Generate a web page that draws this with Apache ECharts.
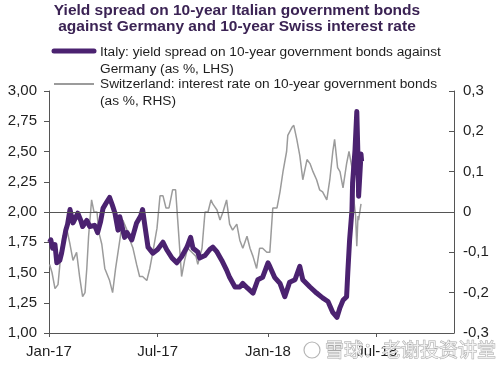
<!DOCTYPE html>
<html><head><meta charset="utf-8">
<script src="https://cdn.jsdelivr.net/npm/echarts@6/dist/echarts.min.js"></script>
<style>html,body{margin:0;padding:0;background:#fff}#c{width:496px;height:365px}</style>
</head><body><div id="c"></div>
<script>
const titleLines = ['Yield spread on 10-year Italian government bonds', 'against Germany and 10-year Swiss interest rate'];
const italyName = ['Italy: yield spread on 10-year government bonds against', 'Germany (as %, LHS)'];
const swissName = ['Switzerland: interest rate on 10-year government bonds', '(as %, RHS)'];
const xTickDates = ['2017-01-01', '2017-07-01', '2018-01-01', '2018-07-01'];
const xTickLabels = ['Jan-17', 'Jul-17', 'Jan-18', 'Jul-18'];
const xMin = '2017-01-01', xMax = '2018-11-07';
const leftMin = 1, leftMax = 3, leftStep = 0.25;
const rightMin = -0.3, rightMax = 0.3, rightStep = 0.1;

const italyDates = ['2017-01-02','2017-01-04','2017-01-07','2017-01-11','2017-01-14','2017-01-19','2017-01-22','2017-01-29','2017-02-01','2017-02-05','2017-02-10','2017-02-15','2017-02-18','2017-02-23','2017-02-26','2017-03-05','2017-03-10','2017-03-18','2017-03-23','2017-03-28','2017-04-01','2017-04-07','2017-04-12','2017-04-17','2017-04-21','2017-04-26','2017-04-29','2017-05-02','2017-05-07','2017-05-11','2017-05-19','2017-05-27','2017-06-03','2017-06-06','2017-06-10','2017-06-15','2017-06-23','2017-07-01','2017-07-10','2017-07-16','2017-07-25','2017-08-02','2017-08-10','2017-08-19','2017-08-25','2017-08-29','2017-09-06','2017-09-09','2017-09-18','2017-09-26','2017-10-01','2017-10-08','2017-10-16','2017-10-24','2017-10-29','2017-11-07','2017-11-15','2017-11-20','2017-11-28','2017-12-07','2017-12-15','2017-12-23','2018-01-01','2018-01-04','2018-01-12','2018-01-21','2018-01-29','2018-02-06','2018-02-15','2018-02-23','2018-02-28','2018-03-12','2018-03-23','2018-04-02','2018-04-11','2018-04-19','2018-04-26','2018-05-01','2018-05-06','2018-05-12','2018-05-14','2018-05-17','2018-05-21','2018-05-22','2018-05-26','2018-05-29','2018-05-31','2018-06-01','2018-06-03','2018-06-05','2018-06-06'];
const italyValues = [1.75,1.77,1.70,1.73,1.58,1.60,1.66,1.85,1.90,2.02,1.91,1.96,1.99,1.93,1.88,1.93,1.88,1.89,1.83,1.92,2.03,2.08,2.12,2.05,1.99,1.85,1.96,1.95,1.79,1.83,1.77,1.91,1.97,2.02,1.88,1.71,1.66,1.69,1.75,1.69,1.62,1.58,1.63,1.71,1.79,1.70,1.67,1.62,1.64,1.69,1.71,1.67,1.60,1.52,1.46,1.38,1.38,1.41,1.37,1.33,1.44,1.46,1.58,1.55,1.46,1.41,1.30,1.42,1.44,1.55,1.44,1.38,1.33,1.29,1.26,1.17,1.13,1.21,1.27,1.30,1.50,1.77,2.02,2.24,2.51,2.83,2.45,2.13,2.30,2.48,2.42];

const swissDates = ['2017-01-02','2017-01-06','2017-01-11','2017-01-16','2017-01-21','2017-01-24','2017-01-31','2017-02-05','2017-02-10','2017-02-16','2017-02-21','2017-02-26','2017-03-02','2017-03-05','2017-03-08','2017-03-13','2017-03-17','2017-03-22','2017-03-25','2017-03-30','2017-04-04','2017-04-12','2017-04-17','2017-04-22','2017-04-27','2017-05-04','2017-05-11','2017-05-16','2017-05-21','2017-05-27','2017-06-01','2017-06-06','2017-06-13','2017-06-18','2017-06-23','2017-06-30','2017-07-05','2017-07-10','2017-07-15','2017-07-20','2017-07-26','2017-07-31','2017-08-04','2017-08-10','2017-08-15','2017-08-20','2017-08-27','2017-09-03','2017-09-06','2017-09-13','2017-09-18','2017-09-23','2017-09-28','2017-10-01','2017-10-08','2017-10-13','2017-10-18','2017-10-24','2017-10-29','2017-11-03','2017-11-10','2017-11-15','2017-11-20','2017-11-27','2017-12-02','2017-12-07','2017-12-13','2017-12-18','2017-12-23','2017-12-30','2018-01-04','2018-01-09','2018-01-16','2018-01-21','2018-01-26','2018-02-01','2018-02-03','2018-02-10','2018-02-13','2018-02-18','2018-02-23','2018-02-28','2018-03-07','2018-03-12','2018-03-17','2018-03-23','2018-03-28','2018-04-02','2018-04-09','2018-04-14','2018-04-19','2018-04-22','2018-04-27','2018-05-01','2018-05-06','2018-05-12','2018-05-16','2018-05-21','2018-05-22','2018-05-27','2018-05-29','2018-05-31','2018-06-01','2018-06-05'];
const swissValues = [-0.13,-0.15,-0.19,-0.18,-0.10,-0.06,-0.045,-0.08,-0.12,-0.10,-0.16,-0.21,-0.20,-0.14,-0.06,0.03,0.0,0.0,-0.05,-0.08,-0.14,-0.17,-0.20,-0.14,-0.09,-0.02,-0.045,-0.07,-0.09,-0.13,-0.16,-0.16,-0.17,-0.14,-0.10,-0.04,0.04,0.04,0.01,0.01,0.055,0.055,-0.03,-0.16,-0.12,-0.09,-0.10,-0.11,-0.13,-0.09,0.0,0.0,0.03,0.02,0.005,-0.02,0.0,0.03,-0.03,-0.045,-0.03,-0.07,-0.09,-0.06,-0.09,-0.11,-0.14,-0.09,-0.09,-0.10,-0.10,0.01,0.01,0.05,0.10,0.15,0.19,0.21,0.215,0.18,0.14,0.08,0.13,0.12,0.10,0.08,0.055,0.05,0.03,0.08,0.15,0.18,0.11,0.10,0.06,0.12,0.15,0.11,0.06,-0.01,-0.085,-0.01,-0.02,0.02];

const watermark = '雪球：老谢投资讲堂';

const ITALY_COLOR = '#4b2270', SWISS_COLOR = '#9b9b9b', AXIS_COLOR = '#555', TEXT_COLOR = '#1e1e1e';
const FONT = 'Arial, "Liberation Sans", sans-serif';

const ts = d => Date.parse(d + 'T00:00:00Z');
const tickTimes = xTickDates.map(ts);
function xLabel(v) {
  const i = tickTimes.findIndex(t => Math.abs(t - v) < 86400000 * 2);
  return i >= 0 ? xTickLabels[i] : '';
}
const chart = echarts.init(document.getElementById('c'), null, {renderer: 'canvas'});
const axisLine = {show: true, onZero: false, lineStyle: {color: AXIS_COLOR, width: 1}};
const option = {
  animation: false,
  backgroundColor: '#fff',
  textStyle: {fontFamily: FONT},
  grid: {left: 49, right: 42, top: 91, bottom: 32, containLabel: false},
  xAxis: {
    type: 'value', min: ts(xMin), max: ts(xMax), scale: true,
    axisLine: axisLine,
    axisTick: {show: true, length: 4, lineStyle: {color: AXIS_COLOR}, customValues: tickTimes},
    axisLabel: {customValues: tickTimes, formatter: xLabel, color: TEXT_COLOR, fontSize: 15, fontFamily: FONT, margin: 11},
    splitLine: {show: false}
  },
  yAxis: [{
    type: 'value', min: leftMin, max: leftMax, interval: leftStep, position: 'left',
    axisLine: axisLine,
    axisTick: {show: true, length: 5, lineStyle: {color: AXIS_COLOR}},
    axisLabel: {formatter: v => v.toFixed(2).replace('.', ','), color: TEXT_COLOR, fontSize: 15, fontFamily: FONT, margin: 12},
    splitLine: {show: false}
  }, {
    type: 'value', min: rightMin, max: rightMax, interval: rightStep, position: 'right',
    axisLine: axisLine,
    axisTick: {show: true, inside: true, length: 5, lineStyle: {color: AXIS_COLOR}},
    axisLabel: {formatter: v => Math.abs(v) < 1e-9 ? '0' : v.toFixed(1).replace('.', ','), color: TEXT_COLOR, fontSize: 15, fontFamily: FONT, margin: 9},
    splitLine: {show: false}
  }],
  series: [{
    name: 'Switzerland', type: 'line', yAxisIndex: 1, symbol: 'none', z: 2,
    lineStyle: {color: SWISS_COLOR, width: 1.5},
    data: swissDates.map((d, i) => [ts(d), swissValues[i]]),
    markLine: {silent: true, symbol: 'none', label: {show: false}, lineStyle: {color: AXIS_COLOR, width: 1, type: 'solid'}, data: [{yAxis: 0}, {yAxis: rightMin}]}
  }, {
    name: 'Italy', type: 'line', yAxisIndex: 0, symbol: 'none', z: 3,
    lineStyle: {color: ITALY_COLOR, width: 5, join: 'round'},
    data: italyDates.map((d, i) => [ts(d), italyValues[i]])
  }],
  graphic: [
    {type: 'text', x: 237, y: 2, style: {text: titleLines.join('\n'), font: 'bold 15.5px ' + FONT, fill: '#3b2354', align: 'center', lineHeight: 16.5}},
    {type: 'line', shape: {x1: 54, y1: 51, x2: 94, y2: 51}, style: {stroke: ITALY_COLOR, lineWidth: 5, lineCap: 'round'}},
    {type: 'text', x: 100, y: 44, style: {text: italyName.join('\n'), font: '13.7px ' + FONT, fill: TEXT_COLOR, lineHeight: 16.5}},
    {type: 'line', shape: {x1: 54, y1: 84, x2: 94, y2: 84}, style: {stroke: SWISS_COLOR, lineWidth: 2}},
    {type: 'text', x: 100, y: 76, style: {text: swissName.join('\n'), font: '13.7px ' + FONT, fill: TEXT_COLOR, lineHeight: 16.5}},
    {type: 'circle', shape: {cx: 312, cy: 350, r: 8}, style: {fill: 'rgba(255,255,255,0.6)', stroke: '#b5b5b5', lineWidth: 1.2}, z: 100},
    {type: 'text', x: 325, y: 340, z: 100, style: {text: watermark, font: '19px "Noto Sans CJK SC"', fill: 'rgba(255,255,255,0.75)', stroke: '#a8a8a8', lineWidth: 1}}
  ]
};
chart.setOption(option);
</script></body></html>
